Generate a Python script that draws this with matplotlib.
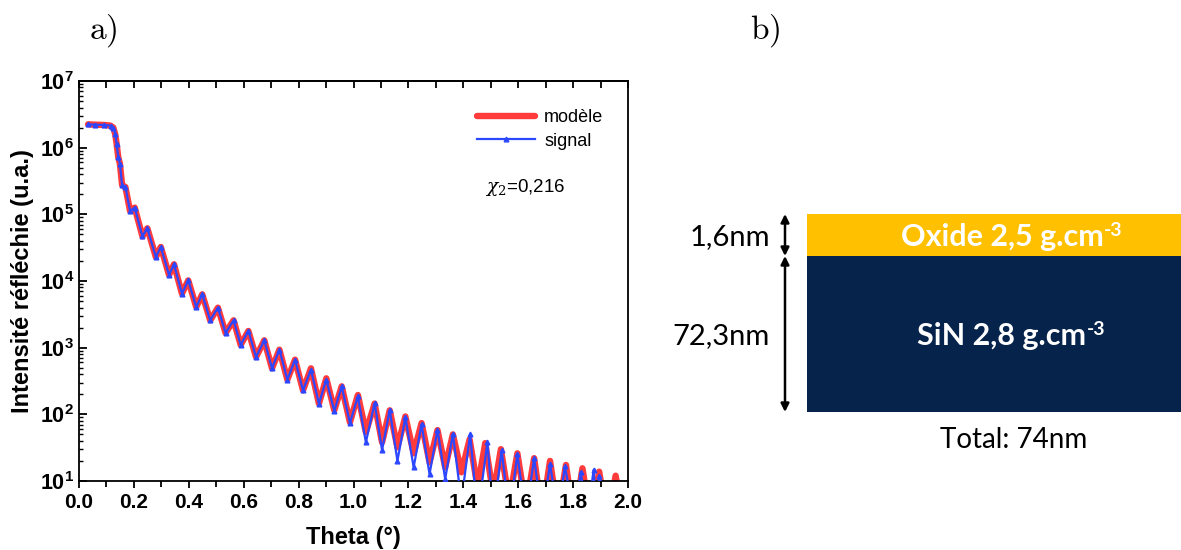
import matplotlib
matplotlib.use("Agg")
import matplotlib.pyplot as plt
from matplotlib.ticker import MultipleLocator, FixedLocator, FixedFormatter, LogLocator, NullFormatter

plt.rcParams['font.family'] = ['Liberation Sans', 'DejaVu Sans']
plt.rcParams['mathtext.fontset'] = 'custom'
plt.rcParams['mathtext.rm'] = 'Liberation Sans'
plt.rcParams['mathtext.bf'] = 'Liberation Sans:bold'

# ---------------- data: panel a ----------------
model_theta = [0.033, 0.06, 0.09, 0.115, 0.125, 0.132, 0.137, 0.143, 0.149, 0.157, 0.169,
               0.186, 0.203, 0.231, 0.249, 0.28, 0.298, 0.328, 0.346, 0.375, 0.398, 0.427,
               0.449, 0.478, 0.506, 0.534, 0.563, 0.589, 0.617, 0.645, 0.675, 0.703, 0.73,
               0.759, 0.787, 0.816, 0.845, 0.874, 0.901, 0.930, 0.957, 0.987, 1.016, 1.045,
               1.077, 1.104, 1.132, 1.160, 1.189, 1.219, 1.248, 1.277, 1.306, 1.334, 1.362,
               1.393, 1.423, 1.452, 1.480, 1.509, 1.537, 1.567, 1.597, 1.628, 1.658, 1.687,
               1.716, 1.745, 1.774, 1.804, 1.834, 1.865, 1.895, 1.925, 1.955, 1.975]
model_int = [2.24e6, 2.21e6, 2.19e6, 2.14e6, 2.0e6, 1.58e6, 1.15e6, 7.2e5, 5.75e5, 2.75e5, 2.57e5,
             1.12e5, 1.26e5, 4.68e4, 6.17e4, 2.29e4, 3.24e4, 1.23e4, 1.78e4, 6.46e3, 1.02e4, 4.07e3,
             6.31e3, 2.57e3, 3.98e3, 1.66e3, 2.57e3, 1.10e3, 1.78e3, 724, 1288, 490, 933,
             331, 661, 229, 490, 145, 347, 115, 263, 76, 195, 54,
             145, 38, 115, 32, 93, 26, 74, 19, 58, 16, 50,
             13.5, 42, 8, 37, 6.3, 30, 5, 26, 4, 22, 3.2,
             20, 3.2, 17.4, 2.5, 15.5, 2.5, 13.8, 2.5, 12, 4]

signal_theta = [0.033, 0.06, 0.09, 0.115, 0.125, 0.132, 0.137, 0.143, 0.149, 0.157, 0.169,
                0.186, 0.203, 0.231, 0.249, 0.28, 0.298, 0.328, 0.346, 0.375, 0.398, 0.427,
                0.449, 0.478, 0.506, 0.534, 0.563, 0.589, 0.617, 0.645, 0.675, 0.703, 0.73,
                0.759, 0.787, 0.816, 0.845, 0.874, 0.901, 0.930, 0.957, 0.987, 1.016, 1.045,
                1.077, 1.104, 1.132, 1.160, 1.189, 1.219, 1.248, 1.277, 1.306, 1.334, 1.362,
                1.393, 1.425, 1.452, 1.488, 1.509, 1.540, 1.567, 1.597, 1.628, 1.658, 1.687,
                1.716, 1.745, 1.770, 1.804, 1.828, 1.852, 1.875, 1.885, 1.895, 1.935]
signal_int = [2.24e6, 2.21e6, 2.19e6, 2.14e6, 2.0e6, 1.58e6, 1.15e6, 7.2e5, 5.75e5, 2.75e5, 2.57e5,
              1.12e5, 1.26e5, 4.68e4, 6.17e4, 2.29e4, 3.24e4, 1.23e4, 1.78e4, 6.46e3, 1.02e4, 4.07e3,
              6.31e3, 2.57e3, 3.98e3, 1.66e3, 2.57e3, 1.10e3, 1.78e3, 724, 1288, 490, 933,
              331, 661, 229, 468, 145, 331, 112, 263, 74, 186, 38,
              148, 29, 117, 20, 91, 16, 71, 12.6, 59, 10.7, 51,
              5, 51, 3, 38, 3, 29, 3, 25, 3, 22, 3,
              18, 3, 16.6, 3, 13.5, 3, 14.8, 3, 12, 3]

x_ticks = [0.0, 0.2, 0.4, 0.6, 0.8, 1.0, 1.2, 1.4, 1.6, 1.8, 2.0]
x_ticklabels = ['0.0', '0.2', '0.4', '0.6', '0.8', '1.0', '1.2', '1.4', '1.6', '1.8', '2.0']
y_ticks = [1e1, 1e2, 1e3, 1e4, 1e5, 1e6, 1e7]
y_ticklabels = [r'$\mathbf{10^{1}}$', r'$\mathbf{10^{2}}$', r'$\mathbf{10^{3}}$', r'$\mathbf{10^{4}}$',
                r'$\mathbf{10^{5}}$', r'$\mathbf{10^{6}}$', r'$\mathbf{10^{7}}$']

# ---------------- data: panel b ----------------
layer_names = ['Oxide', 'SiN']
layer_density = ['2,5', '2,8']
layer_thickness = ['1,6nm', '72,3nm']
total_thickness = 'Total: 74nm'
layer_colors = ['#FFC000', '#05234B']

fig = plt.figure(figsize=(11.81, 5.5), dpi=100)

# ---------------- panel a ----------------
ax = fig.add_axes([79/1181, 69/550, 549/1181, 400/550])
ax.plot(model_theta, model_int, color='#FF3B3B', lw=4.6, solid_joinstyle='round',
        solid_capstyle='round', label='modèle', zorder=2)
ax.plot(signal_theta, signal_int, color='#2B47FF', lw=1.6, marker='^', ms=3.4,
        label='signal', zorder=3)
ax.set_yscale('log')
ax.set_xlim(0, 2.0)
ax.set_ylim(10, 1e7)
ax.xaxis.set_major_locator(FixedLocator(x_ticks))
ax.xaxis.set_major_formatter(FixedFormatter(x_ticklabels))
ax.xaxis.set_minor_locator(MultipleLocator(0.1))
ax.yaxis.set_major_locator(FixedLocator(y_ticks))
ax.yaxis.set_major_formatter(FixedFormatter(y_ticklabels))
ax.yaxis.set_minor_locator(LogLocator(base=10, subs=range(2, 10), numticks=20))
ax.yaxis.set_minor_formatter(NullFormatter())
for lab in ax.get_xticklabels():
    lab.set_fontweight('bold')
ax.tick_params(axis='x', which='both', direction='out', labelsize=15, width=1.3)
ax.tick_params(axis='x', which='major', length=5)
ax.tick_params(axis='x', which='minor', length=4)
ax.tick_params(axis='y', which='major', direction='in', length=6, width=1.3, labelsize=15.5)
ax.tick_params(axis='y', which='minor', direction='in', length=3, width=1)
top = ax.secondary_xaxis('top')
top.xaxis.set_major_locator(MultipleLocator(0.1))
top.tick_params(axis='x', direction='in', length=5, width=1.3, labeltop=False)
top.spines['top'].set_linewidth(1.3)
for s in ax.spines.values():
    s.set_linewidth(1.3)
ax.set_xlabel('Theta (°)', fontsize=17, fontweight='bold', labelpad=10)
ax.set_ylabel('Intensité réfléchie (u.a.)', fontsize=17, fontweight='bold', labelpad=4)
leg = ax.legend(loc='upper right', bbox_to_anchor=(0.985, 0.97), frameon=False, fontsize=13,
                handlelength=3.2, handletextpad=0.5, labelspacing=0.35)
ax.text(0.74, 0.735, r'$\chi_{2}$=0,216', transform=ax.transAxes, fontsize=13.5,
        math_fontfamily='dejavuserif', va='center', ha='left')

fig.text(103/1181, 1 - 31/550, r'$\mathrm{a)}$', fontsize=24, math_fontfamily='cm',
         ha='center', va='center')
fig.text(765/1181, 1 - 31/550, r'$\mathrm{b)}$', fontsize=24, math_fontfamily='cm',
         ha='center', va='center')

# ---------------- panel b ----------------
bx = fig.add_axes([0, 0, 1, 1])
bx.set_xlim(0, 1181)
bx.set_ylim(550, 0)
bx.axis('off')
bx.patch.set_alpha(0)
box_left, box_width = 807, 374
layer_tops = [214, 256]
layer_heights = [42, 156]
bx.bar([box_left + box_width / 2] * 2, layer_heights, bottom=layer_tops, width=box_width,
       color=layer_colors, edgecolor='none')
for name, dens, top_y, h in zip(layer_names, layer_density, layer_tops, layer_heights):
    t = bx.text(box_left + box_width / 2 + 8, top_y + h / 2 + 2,
                name + ' ' + dens + ' g.cm',
                family='Lato', fontweight='bold', fontsize=22, color='white',
                ha='center', va='center')
    bx.annotate('-3', xy=(1.0, 0.74), xycoords=t, family='Lato', fontweight='bold',
                fontsize=14, color='white', ha='left', va='center')
arrow_x = 785
for lab, top_y, h in zip(layer_thickness, layer_tops, layer_heights):
    bx.annotate('', xy=(arrow_x, top_y), xytext=(arrow_x, top_y + h),
                arrowprops=dict(arrowstyle='<|-|>', lw=1.8, color='black',
                                mutation_scale=12, shrinkA=0, shrinkB=0))
    bx.text(770, top_y + h / 2 + 2, lab, family='Lato', fontsize=21, ha='right', va='center')
bx.text(box_left + box_width / 2 + 20, 440, total_thickness, family='Lato', fontsize=20,
        ha='center', va='center')

fig.savefig('out.png', dpi=100)
